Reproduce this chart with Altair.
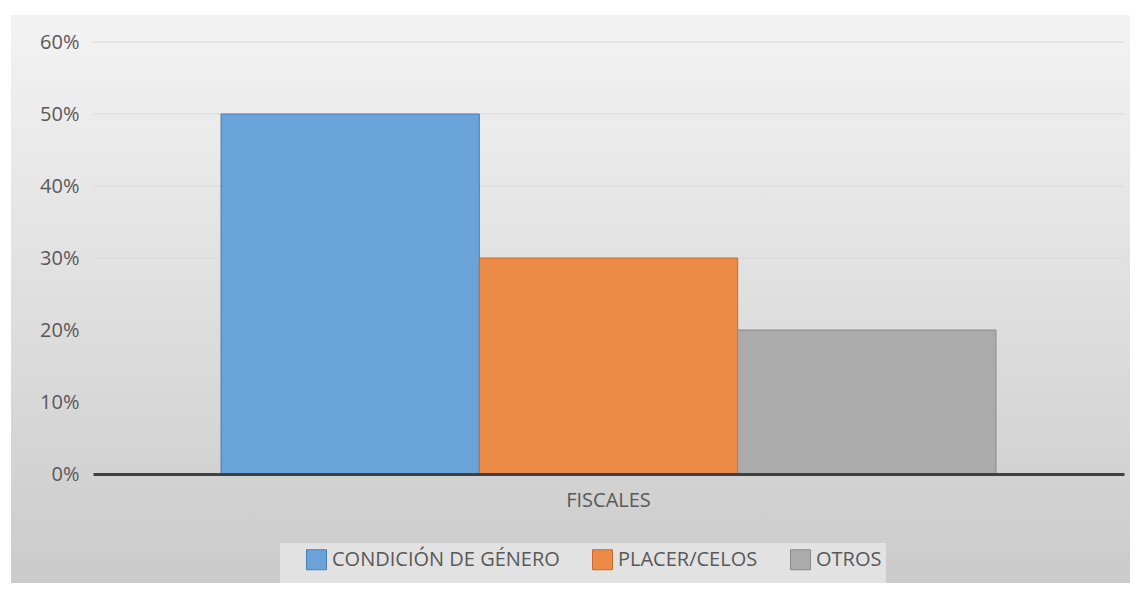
import altair as alt
import pandas as pd

# Data
categories = ["FISCALES"]
series = ["CONDICIÓN DE GÉNERO", "PLACER/CELOS", "OTROS"]
values = [0.50, 0.30, 0.20]
y_ticks = [0.0, 0.1, 0.2, 0.3, 0.4, 0.5, 0.6]

fills = ["#6AA3D8", "#EC8A48", "#ABABAB"]
strokes = ["#4A7FB5", "#C96B2C", "#8A8A8A"]

df = pd.DataFrame({
    "cat": [categories[0]] * len(series),
    "series": series,
    "value": values,
})
grid_df = pd.DataFrame({"t": y_ticks[1:]})
one = pd.DataFrame({"a": [0]})

FONT = "Open Sans"
TXT = "#595959"

W, H = 1031, 432

yscale = alt.Scale(domain=[0, 0.6], nice=False)

gradient = alt.LinearGradient(
    gradient="linear", x1=0, y1=0, x2=0, y2=1,
    stops=[alt.GradientStop(offset=0, color="#f3f3f3"),
           alt.GradientStop(offset=1, color="#cbcbcb")],
)

panel = alt.Chart(one).mark_rect(fill=gradient).encode(
    x=alt.value(-82), x2=alt.value(1037), y=alt.value(-27), y2=alt.value(541)
)

legend_box = alt.Chart(one).mark_rect(fill="#e2e2e2").encode(
    x=alt.value(187), x2=alt.value(793), y=alt.value(501), y2=alt.value(541)
)

grid = alt.Chart(grid_df).mark_rule(color="#d9d9d9", strokeWidth=1).encode(
    y=alt.Y("t:Q", scale=yscale, title=None),
    x=alt.value(0), x2=alt.value(W),
)

bars = alt.Chart(df).mark_bar(strokeWidth=1).encode(
    x=alt.X("cat:N", title=None,
            scale=alt.Scale(paddingInner=0, paddingOuter=0.1652),
            axis=alt.Axis(labelAngle=0, ticks=False, tickSize=0, labelPadding=16,
                          domainColor="#404040", domainWidth=3, grid=False,
                          zindex=1,
                          labelFont=FONT, labelFontSize=20, labelColor=TXT)),
    xOffset=alt.XOffset("series:N", sort=series,
                        scale=alt.Scale(paddingInner=0, paddingOuter=0)),
    y=alt.Y("value:Q", title=None, scale=yscale,
            axis=alt.Axis(values=y_ticks, format=".0%", ticks=False, tickSize=0,
                          domain=False, labelPadding=14, grid=False, zindex=1,
                          labelFont=FONT, labelFontSize=20, labelColor=TXT)),
    color=alt.Color("series:N", sort=series, title=None,
                    scale=alt.Scale(domain=series, range=fills),
                    legend=alt.Legend(orient="none", legendX=213, legendY=507,
                                      direction="horizontal")),
    stroke=alt.Stroke("series:N", sort=series, title=None,
                      scale=alt.Scale(domain=series, range=strokes),
                      legend=alt.Legend(orient="none", legendX=213, legendY=507,
                                        direction="horizontal")),
)

chart = alt.layer(panel, legend_box, grid, bars).properties(
    width=W, height=H,
    autosize=alt.AutoSizeParams(type="none"),
    padding={"left": 85, "top": 34, "right": 6, "bottom": 109},
    background="white",
).configure_view(stroke=None).configure_legend(
    labelFont=FONT, labelFontSize=20, labelColor=TXT,
    symbolType="square", symbolSize=400, symbolStrokeWidth=1,
    columnPadding=30, labelOffset=5, padding=0, labelLimit=400,
)

chart.save("out.html", embed_options={"renderer": "svg", "actions": False})
